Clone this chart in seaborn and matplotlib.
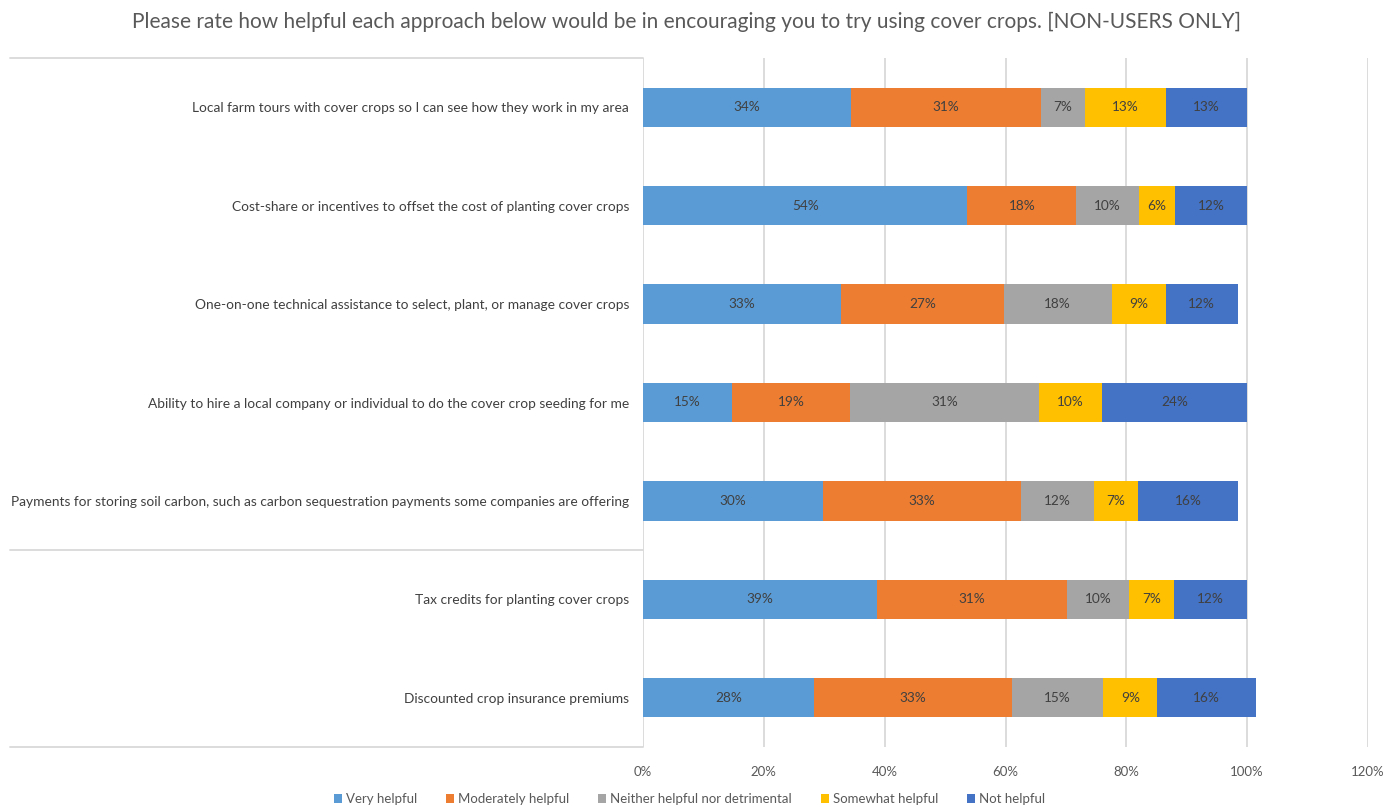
import pandas as pd
import matplotlib
matplotlib.use("Agg")
import matplotlib.pyplot as plt
import matplotlib.transforms as mtransforms
from matplotlib.lines import Line2D
import seaborn as sns

# Survey approaches (top to bottom) and response shares in percent
categories = [
    "Local farm tours with cover crops so I can see how they work in my area",
    "Cost-share or incentives to offset the cost of planting cover crops",
    "One-on-one technical assistance to select, plant, or manage cover crops",
    "Ability to hire a local company or individual to do the cover crop seeding for me",
    "Payments for storing soil carbon, such as carbon sequestration payments some companies are offering",
    "Tax credits for planting cover crops",
    "Discounted crop insurance premiums",
]
very_helpful = [34.4, 53.7, 32.8, 14.8, 29.8, 38.7, 28.3]
moderately_helpful = [31.4, 18.0, 26.9, 19.4, 32.8, 31.4, 32.8]
neither = [7.4, 10.4, 17.9, 31.4, 12.0, 10.4, 15.1]
somewhat_helpful = [13.4, 5.9, 8.9, 10.4, 7.4, 7.4, 8.9]
not_helpful = [13.4, 12.0, 11.9, 24.0, 16.4, 12.1, 16.4]

series_names = ["Very helpful", "Moderately helpful", "Neither helpful nor detrimental",
                "Somewhat helpful", "Not helpful"]
colors = ["#5B9BD5", "#ED7D31", "#A5A5A5", "#FFC000", "#4472C4"]
xticks = [0, 20, 40, 60, 80, 100, 120]

df = pd.DataFrame({
    "approach": categories,
    series_names[0]: very_helpful,
    series_names[1]: moderately_helpful,
    series_names[2]: neither,
    series_names[3]: somewhat_helpful,
    series_names[4]: not_helpful,
})
cum = df[series_names].cumsum(axis=1)

sns.set_style("white")
plt.rcParams["font.family"] = ["Lato", "DejaVu Sans"]

fig = plt.figure(figsize=(13.87, 8.07), dpi=100)
ax = fig.add_axes([643 / 1387, 1 - 747 / 807, (1368 - 643) / 1387, (747 - 58) / 807])

# stacked bars: draw cumulative totals from the outermost segment inward
for name, color in reversed(list(zip(series_names, colors))):
    sns.barplot(x=cum[name], y=df["approach"], color=color, width=0.4,
                orient="h", ax=ax, label=name, saturation=1, linewidth=0)

# segment labels
for name in series_names:
    centers = cum[name] - df[name] / 2
    for i, (c, v) in enumerate(zip(centers, df[name])):
        ax.text(c, i, f"{round(v)}%", ha="center", va="center",
                fontsize=9.8, color="#404040")

ax.set_xlim(0, 120)
ax.set_ylim(6.5, -0.5)
ax.set_xticks(xticks)
ax.set_xticklabels([f"{t}%" for t in xticks])
ax.set_xlabel("")
ax.set_ylabel("")
ax.grid(axis="x", color="#D9D9D9", linewidth=1.3)
ax.set_axisbelow(True)
for s in ax.spines.values():
    s.set_visible(False)
ax.tick_params(axis="both", length=0, labelsize=9.5, labelcolor="#595959")
ax.tick_params(axis="x", pad=14)
ax.tick_params(axis="y", pad=10, labelsize=9.9, labelcolor="#404040")

# category-axis separator lines on the left
trans = mtransforms.blended_transform_factory(fig.transFigure, ax.transData)
for yb in [-0.5, 4.5, 6.5]:
    ax.add_line(Line2D([10 / 1387, 643 / 1387], [yb, yb], transform=trans,
                       color="#D9D9D9", linewidth=1.3, clip_on=False))

fig.text(0.495, 1 - 22 / 807,
         "Please rate how helpful each approach below would be in encouraging you to try using cover crops. [NON-USERS ONLY]",
         ha="center", va="center", fontsize=15, color="#595959")

handles, labels = ax.get_legend_handles_labels()
if ax.get_legend() is not None:
    ax.get_legend().remove()
fig.legend(handles[::-1], labels[::-1], loc="center", bbox_to_anchor=(0.497, 1 - 799 / 807),
           ncol=5, frameon=False, fontsize=9.5, handlelength=0.6, handleheight=0.6,
           handletextpad=0.3, columnspacing=2.2, labelcolor="#595959")

fig.savefig("out.png", dpi=100)
